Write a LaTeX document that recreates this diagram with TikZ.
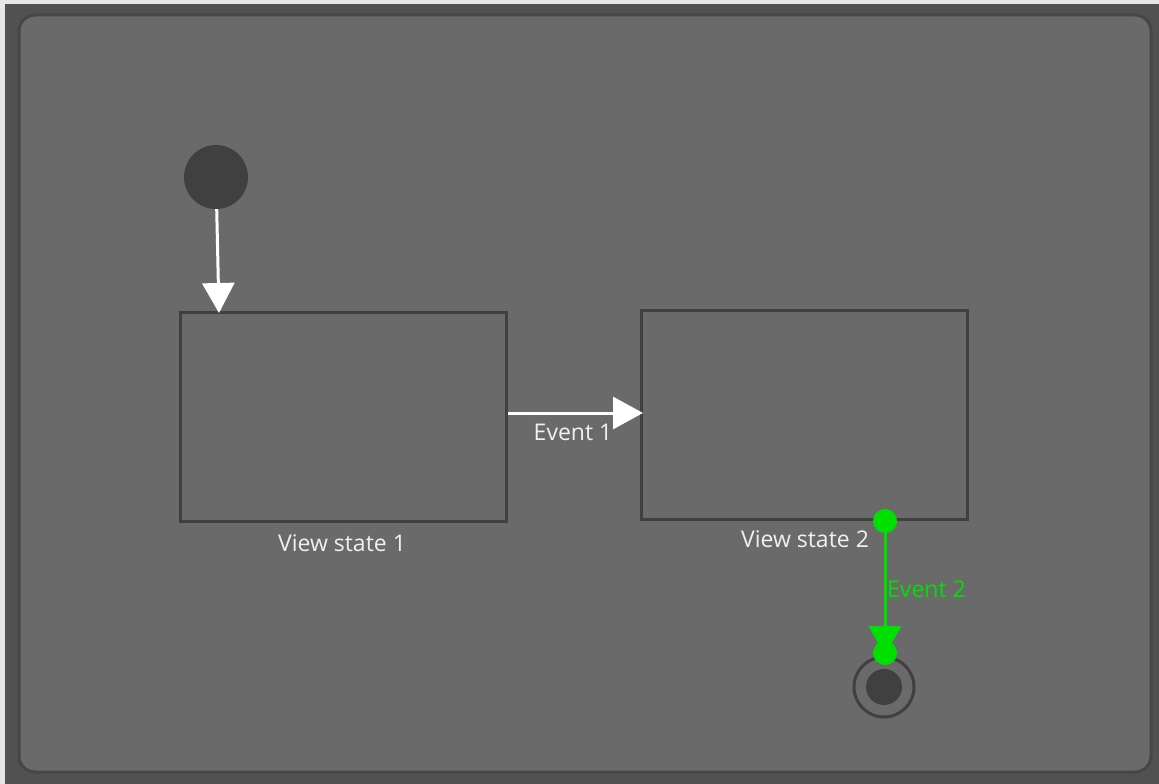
\documentclass[tikz,border=0pt]{standalone}
\usepackage{fontspec}
\setmainfont{Open Sans}
\usetikzlibrary{arrows.meta}
\definecolor{outerbg}{HTML}{515151}
\definecolor{panel}{HTML}{6A6A6A}
\definecolor{panelborder}{HTML}{464646}
\definecolor{shapedark}{HTML}{404040}
\definecolor{edgelight}{HTML}{E6E6E6}
\definecolor{evgreen}{HTML}{00E000}
\tikzset{
  statebox/.style={draw=shapedark, line width=3pt, inner sep=0pt},
  caption/.style={text=white!94!black, font=\fontsize{23}{25}\selectfont, inner sep=0pt},
  greencap/.style={text=evgreen, font=\fontsize{23}{25}\selectfont, inner sep=0pt},
  wline/.style={draw=white, line width=3pt, -{Triangle[width=32pt,length=30pt]}},
  gline/.style={draw=evgreen, line width=3pt, -{Triangle[width=32pt,length=30pt]}},
  gdot/.style={circle, fill=evgreen, minimum size=24pt, inner sep=0pt},
}
\begin{document}
\begin{tikzpicture}[x=1pt,y=-1pt]
\useasboundingbox (0,0) rectangle (1159,784);
\fill[edgelight] (0,0) rectangle (1159,784);
\fill[outerbg] (5,4) rectangle (1159,784);
\draw[fill=panel, draw=panelborder, line width=3pt, rounded corners=16pt] (19,15) rectangle (1151,772);

% initial state
\node[circle, fill=shapedark, minimum size=64pt, inner sep=0pt] (init) at (216,177) {};

% states
\node[statebox, minimum width=326pt, minimum height=209pt] (s1) at (343,416.5) {};
\node[statebox, minimum width=326pt, minimum height=209pt] (s2) at (804,414.5) {};
\node[caption] (l1) at (342,543) {View state 1};
\node[caption] (l2) at (805,539) {View state 2};

% initial transition
\coordinate (s1in) at (219,313);
\draw[wline] (init) -- (s1in);

% Event 1
\coordinate (e1a) at (508,413);
\coordinate (e1b) at (643,413);
\draw[wline] (e1a) -- (e1b);
\node[caption] (ev1) at (573,432) {Event 1};

% final state
\node[circle, draw=shapedark, line width=3pt, minimum size=60pt, inner sep=0pt] (fin) at (884,687) {};
\node[circle, fill=shapedark, minimum size=36pt, inner sep=0pt] (fincore) at (fin) {};

% Event 2 (selected, green)
\node[gdot] (g1) at (885,521) {};
\coordinate (g2tip) at (885,656);
\draw[gline] (g1.center) -- (g2tip);
\node[gdot] (g2) at (885,653) {};
\node[greencap, anchor=west] (ev2) at (887,589) {Event 2};
\end{tikzpicture}
\end{document}
